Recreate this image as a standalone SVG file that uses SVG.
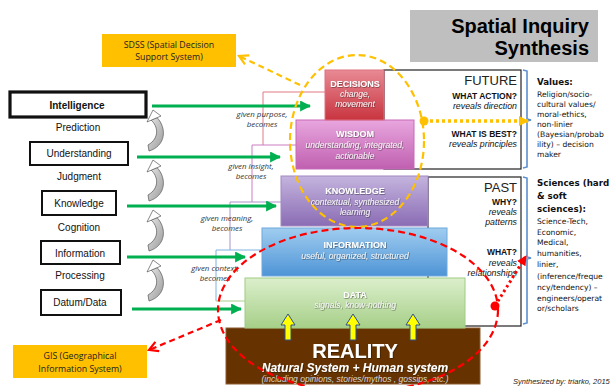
<svg xmlns="http://www.w3.org/2000/svg" width="611" height="386" viewBox="0 0 611 386">
<defs>
<style>
.lbl{font-family:"Liberation Sans",Arial,sans-serif;font-size:10px;fill:#111;text-anchor:middle}
.lbox{fill:#fff;stroke:#111;stroke-width:2}
.note{font-family:"Open Sans","Liberation Sans",sans-serif;font-size:8.8px;fill:#222;text-anchor:middle}
.given{font-family:"Open Sans","Liberation Sans",sans-serif;font-style:italic;font-size:7.9px;fill:#333;text-anchor:middle}
.lt{font-family:"Liberation Sans",Arial,sans-serif;font-weight:bold;font-size:9px;fill:#fff;text-anchor:middle}
.ls{font-family:"Liberation Sans",Arial,sans-serif;font-style:italic;font-size:8.5px;fill:#f4f4f4;text-anchor:middle}
.rt{font-family:"Liberation Sans",Arial,sans-serif;font-size:8.5px;fill:#111;text-anchor:end}
.rb{font-weight:bold}
.ri{font-style:italic;font-size:8.8px}
.big{font-size:13px;fill:#222}
.side{font-family:"DejaVu Sans",Verdana,sans-serif;font-size:7.6px;fill:#111}
.sideb{font-weight:bold;font-size:8.7px}
.green{stroke:#00b050;stroke-width:3;fill:none}
.thin{fill:none;stroke-width:1}
.brace{fill:none;stroke:#5b8fd0;stroke-width:1.6}
.yarr{fill:#ffff00;stroke:#2f4f8f;stroke-width:1}
</style>
<linearGradient id="gDec" x1="0" y1="0" x2="0" y2="1"><stop offset="0" stop-color="#e88a94"/><stop offset="1" stop-color="#c8343f"/></linearGradient>
<linearGradient id="gWis" x1="0" y1="0" x2="0" y2="1"><stop offset="0" stop-color="#e8a6de"/><stop offset="1" stop-color="#c060b0"/></linearGradient>
<linearGradient id="gKno" x1="0" y1="0" x2="0" y2="1"><stop offset="0" stop-color="#c4b4de"/><stop offset="1" stop-color="#8a6cb4"/></linearGradient>
<linearGradient id="gInf" x1="0" y1="0" x2="0" y2="1"><stop offset="0" stop-color="#a0cdf0"/><stop offset="1" stop-color="#4e94d6"/></linearGradient>
<linearGradient id="gDat" x1="0" y1="0" x2="0" y2="1"><stop offset="0" stop-color="#dcefcc"/><stop offset="1" stop-color="#a6cf88"/></linearGradient>
<linearGradient id="gHook" x1="0" y1="0" x2="1" y2="1"><stop offset="0" stop-color="#e8e8e8"/><stop offset="1" stop-color="#9a9a9a"/></linearGradient>
<filter id="sh" x="-10%" y="-30%" width="120%" height="160%"><feDropShadow dx="0.6" dy="0.6" stdDeviation="0.5" flood-color="#000" flood-opacity="0.55"/></filter>
<marker id="mG" viewBox="0 0 10 10" refX="9" refY="5" markerWidth="11" markerHeight="11" markerUnits="userSpaceOnUse" orient="auto"><path d="M0,0 L10,5 L0,10 Z" fill="#00b050"/></marker>
<marker id="mY" viewBox="0 0 12 12" refX="10" refY="6" markerWidth="12" markerHeight="12" markerUnits="userSpaceOnUse" orient="auto"><path d="M1,1 L10,6 L1,11" fill="none" stroke="#ffc000" stroke-width="2.2"/></marker>
<marker id="mR" viewBox="0 0 12 12" refX="10" refY="6" markerWidth="12" markerHeight="12" markerUnits="userSpaceOnUse" orient="auto"><path d="M1,1 L10,6 L1,11" fill="none" stroke="#ff0000" stroke-width="2.2"/></marker>
<marker id="mYt" viewBox="0 0 10 10" refX="9" refY="5" markerWidth="10" markerHeight="11" markerUnits="userSpaceOnUse" orient="auto"><path d="M0,0 L10,5 L0,10 Z" fill="#ffc000"/></marker>
<marker id="mRt" viewBox="0 0 10 10" refX="9" refY="5" markerWidth="10" markerHeight="11" markerUnits="userSpaceOnUse" orient="auto"><path d="M0,0 L10,5 L0,10 Z" fill="#ff0000"/></marker>
<g id="hook">
<path d="M3,10 C10,16 12,28 0,35 L1,41 C18,36 19,18 9,7.6 Z" fill="url(#gHook)" stroke="#555" stroke-width="0.7"/>
<path d="M5,0 L-1,12 L13,6 Z" fill="#fff" stroke="#555" stroke-width="0.7"/>
</g>
</defs>
<rect width="611" height="386" fill="#fff"/>

<g id="title">
<rect x="410" y="10" width="188" height="52" fill="#bfbfbf"/>
<text x="589" y="33" font-family="Liberation Sans,Arial,sans-serif" font-weight="bold" font-size="20" text-anchor="end" fill="#000">Spatial Inquiry</text>
<text x="589" y="55" font-family="Liberation Sans,Arial,sans-serif" font-weight="bold" font-size="20" text-anchor="end" fill="#000">Synthesis</text>
</g>

<g id="sdss">
<rect x="102" y="34" width="134" height="33" fill="#ffc000"/>
<text class="note" x="169" y="48">SDSS (Spatial Decision</text>
<text class="note" x="169" y="60">Support System)</text>
</g>
<g id="gis">
<rect x="13" y="345" width="134" height="33" fill="#ffc000"/>
<text class="note" x="80" y="359">GIS (Geographical</text>
<text class="note" x="80" y="372">Information  System)</text>
</g>

<g id="left-levels">
<g id="intelligence"><rect class="lbox" x="10" y="92" width="136" height="25" style="stroke-width:3.2"/><text class="lbl" x="77" y="109" font-weight="bold" font-size="12">Intelligence</text></g>
<text class="lbl" x="78" y="131">Prediction</text>
<g id="understanding"><rect class="lbox" x="30" y="142" width="98" height="23"/><text class="lbl" x="79" y="157">Understanding</text></g>
<text class="lbl" x="79" y="180">Judgment</text>
<g id="knowledge-l"><rect class="lbox" x="42" y="191" width="74" height="24"/><text class="lbl" x="79" y="207">Knowledge</text></g>
<text class="lbl" x="79" y="231">Cognition</text>
<g id="information-l"><rect class="lbox" x="41" y="241" width="79" height="23"/><text class="lbl" x="80" y="257">Information</text></g>
<text class="lbl" x="80" y="279">Processing</text>
<g id="data-l"><rect class="lbox" x="41" y="290" width="80" height="25"/><text class="lbl" x="80" y="306">Datum/Data</text></g>
<use href="#hook" x="148" y="110"/>
<use href="#hook" x="148" y="160"/>
<use href="#hook" x="148" y="210"/>
<use href="#hook" x="148" y="260"/>
</g>

<g id="frames">
<rect x="384" y="70" width="137" height="99" fill="#fff" stroke="#222" stroke-width="1.2"/>
<rect x="428" y="177" width="93" height="149" fill="#fff" stroke="#222" stroke-width="1.2"/>
<path class="brace" d="M523,70 L527,71 L527,119 L531,120 L527,121 L527,167 L523,168"/>
<path class="brace" d="M523,177 L527,178 L527,257 L531,258 L527,259 L527,323 L523,324"/>
</g>

<g id="layer-links">
<path class="thin" stroke="#e07a86" d="M325,92 H263 V145"/>
<path class="thin" stroke="#cc7cc4" d="M296,145 H252 V202"/>
<path class="thin" stroke="#a894cc" d="M281,202 H230 V250"/>
<path class="thin" stroke="#7fb2e2" d="M262,250 H216 V301"/>
<path class="thin" stroke="#a8d08d" d="M245,301 H216"/>
</g>

<g id="reality">
<rect x="226" y="328" width="254" height="56" fill="#663300" stroke="#8a5a30" stroke-width="1"/>
<text x="355" y="358" font-family="Liberation Sans,Arial,sans-serif" font-weight="bold" font-size="20" text-anchor="middle" fill="#fff" filter="url(#sh)">REALITY</text>
<text x="355" y="372" font-family="Liberation Sans,Arial,sans-serif" font-weight="bold" font-style="italic" font-size="12" text-anchor="middle" fill="#fff" filter="url(#sh)">Natural System + Human system</text>
<text x="355" y="382" font-family="Liberation Sans,Arial,sans-serif" font-style="italic" font-size="8.5" text-anchor="middle" fill="#d8d8d8">(including opinions, stories/mythos , gossips, etc.)</text>
</g>
<g id="data">
<rect x="245" y="278" width="220" height="50" fill="url(#gDat)" stroke="#a0cc84" stroke-width="1"/>
<text class="lt" x="355" y="298" filter="url(#sh)">DATA</text>
<text class="ls" x="355" y="308" filter="url(#sh)">signals, know-nothing</text>
</g>
<g id="information">
<rect x="262" y="228" width="185" height="48" fill="url(#gInf)" stroke="#6fa8dc" stroke-width="1"/>
<text class="lt" x="355" y="248" filter="url(#sh)">INFORMATION</text>
<text class="ls" x="355" y="259" filter="url(#sh)">useful, organized, structured</text>
</g>
<g id="knowledge">
<rect x="281" y="176" width="147" height="50" fill="url(#gKno)" stroke="#a088c0" stroke-width="1"/>
<text class="lt" x="355" y="194" filter="url(#sh)">KNOWLEDGE</text>
<text class="ls" x="355" y="205" filter="url(#sh)">contextual, synthesized</text>
<text class="ls" x="355" y="215" filter="url(#sh)">learning</text>
</g>
<g id="wisdom">
<rect x="296" y="120" width="118" height="49" fill="url(#gWis)" stroke="#c868b8" stroke-width="1"/>
<text class="lt" x="355" y="137" filter="url(#sh)">WISDOM</text>
<text class="ls" x="355" y="148" filter="url(#sh)">understanding, integrated,</text>
<text class="ls" x="355" y="159" filter="url(#sh)">actionable</text>
</g>
<g id="decisions">
<rect x="325" y="70" width="59" height="50" fill="url(#gDec)" stroke="#e07080" stroke-width="1"/>
<text class="lt" x="355" y="87" filter="url(#sh)">DECISIONS</text>
<text class="ls" x="355" y="97" filter="url(#sh)">change,</text>
<text class="ls" x="355" y="107" filter="url(#sh)">movement</text>
</g>

<g id="given-labels">
<text class="given" x="262" y="117">given purpose,</text>
<text class="given" x="262" y="127">becomes</text>
<text class="given" x="251" y="169">given insight,</text>
<text class="given" x="251" y="179">becomes</text>
<text class="given" x="227" y="221">given meaning,</text>
<text class="given" x="227" y="231">becomes</text>
<text class="given" x="215" y="271">given context,</text>
<text class="given" x="215" y="281">becomes</text>
</g>

<g id="frame-text">
<text class="rt big" x="517" y="85">FUTURE</text>
<text class="rt rb" x="517" y="99">WHAT ACTION?</text>
<text class="rt ri" x="517" y="109">reveals direction</text>
<text class="rt rb" x="517" y="137">WHAT IS BEST?</text>
<text class="rt ri" x="517" y="147">reveals principles</text>
<text class="rt big" x="517" y="192">PAST</text>
<text class="rt rb" x="517" y="205">WHY?</text>
<text class="rt ri" x="517" y="215">reveals</text>
<text class="rt ri" x="517" y="225">patterns</text>
<text class="rt rb" x="517" y="255">WHAT?</text>
<text class="rt ri" x="517" y="266">reveals</text>
<text class="rt ri" x="517" y="276">relationships</text>
</g>

<g id="values">
<text class="side sideb" x="537" y="85">Values:</text>
<text class="side" x="537" y="97">Religion/socio-</text>
<text class="side" x="537" y="107">cultural values/</text>
<text class="side" x="537" y="117">moral-ethics,</text>
<text class="side" x="537" y="127">non-linier</text>
<text class="side" x="537" y="137">(Bayesian/probab</text>
<text class="side" x="537" y="147">ility) – decision</text>
<text class="side" x="537" y="157">maker</text>
</g>
<g id="sciences">
<text class="side sideb" x="537" y="186">Sciences (hard</text>
<text class="side sideb" x="537" y="199">&amp; soft</text>
<text class="side sideb" x="537" y="212">sciences):</text>
<text class="side" x="537" y="224">Science-Tech,</text>
<text class="side" x="537" y="235">Economic,</text>
<text class="side" x="537" y="245">Medical,</text>
<text class="side" x="537" y="256">humanities,</text>
<text class="side" x="537" y="267">linier,</text>
<text class="side" x="537" y="279">(inference/freque</text>
<text class="side" x="537" y="290">ncy/tendency) –</text>
<text class="side" x="537" y="301">engineers/operat</text>
<text class="side" x="537" y="311">or/scholars</text>
</g>

<g id="connectors">
<line class="green" x1="152" y1="106" x2="310" y2="106" marker-end="url(#mG)"/>
<line class="green" x1="137" y1="157" x2="280" y2="157" marker-end="url(#mG)"/>
<line class="green" x1="127" y1="206" x2="276" y2="206" marker-end="url(#mG)"/>
<line class="green" x1="127" y1="257" x2="245" y2="257" marker-end="url(#mG)"/>
<line class="green" x1="132" y1="309" x2="241" y2="309" marker-end="url(#mG)"/>
<path class="yarr" d="M285,340 V325 H281 L288,314 L295,325 H291 V340 Z"/>
<path class="yarr" d="M350,340 V325 H346 L353,314 L360,325 H356 V340 Z"/>
<path class="yarr" d="M410,340 V325 H406 L413,314 L420,325 H416 V340 Z"/>
<ellipse cx="357" cy="141" rx="67" ry="86" fill="none" stroke="#ffc000" stroke-width="2.2" stroke-dasharray="7 4"/>
<ellipse cx="358" cy="310" rx="140" ry="82" fill="none" stroke="#ff0000" stroke-width="2.2" stroke-dasharray="7 4"/>
<line x1="300" y1="85" x2="239" y2="56" stroke="#ffc000" stroke-width="2.2" stroke-dasharray="6 4" marker-end="url(#mY)"/>
<line x1="221" y1="320" x2="149" y2="350" stroke="#ff0000" stroke-width="2.2" stroke-dasharray="6 4" marker-end="url(#mR)"/>
<line x1="424" y1="121" x2="528" y2="121" stroke="#ffc000" stroke-width="3.5" stroke-dasharray="3 3" marker-end="url(#mYt)"/>
<circle cx="424" cy="121" r="4.5" fill="#ffc000"/>
<line x1="495" y1="306" x2="526" y2="256" stroke="#ff0000" stroke-width="3" stroke-dasharray="2.5 3" marker-end="url(#mRt)"/>
<circle cx="495" cy="306" r="4.5" fill="#ff0000"/>
</g>

<text x="513" y="384" font-family="Liberation Sans,Arial,sans-serif" font-style="italic" font-size="7.5" fill="#222">Synthesized by: triarko, 2015</text>
</svg>
